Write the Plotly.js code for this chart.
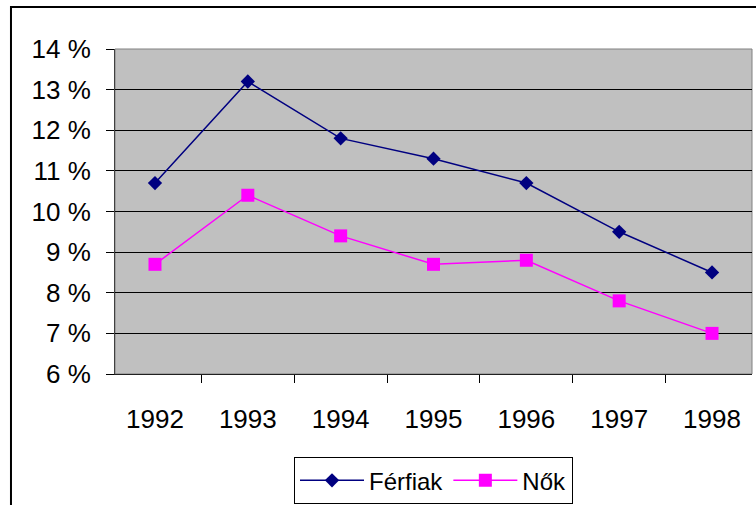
<!DOCTYPE html>
<html>
<head>
<meta charset="utf-8">
<script src="https://cdn.plot.ly/plotly-3.0.1.min.js"></script>
<style>
html,body{margin:0;padding:0;background:#fff;}
#chart{width:756px;height:505px;}
</style>
</head>
<body>
<div id="chart"></div>
<script>
const years = ['1992','1993','1994','1995','1996','1997','1998'];
const ferfiak = [10.7, 13.2, 11.8, 11.3, 10.7, 9.5, 8.5];
const nok = [8.7, 10.4, 9.4, 8.7, 8.8, 7.8, 7.0];
const yTicks = [6,7,8,9,10,11,12,13,14];

const fam = '"Liberation Sans", Arial, sans-serif';
const font = {family: fam, size: 26, color: '#000'};

const traces = [
  {
    x: years, y: ferfiak, name: 'Férfiak', type: 'scatter', mode: 'lines+markers',
    line: {color: '#000080', width: 1.5},
    marker: {symbol: 'diamond', size: 11, color: '#000080'}
  },
  {
    x: years, y: nok, name: 'Nők', type: 'scatter', mode: 'lines+markers',
    line: {color: '#FF00FF', width: 1.5},
    marker: {symbol: 'square', size: 13, color: '#FF00FF'}
  }
];

const layout = {
  width: 756, height: 505,
  margin: {l: 115, r: 4, t: 49, b: 131, autoexpand: false},
  paper_bgcolor: '#fff',
  plot_bgcolor: '#C0C0C0',
  font: font,
  showlegend: true,
  legend: {
    orientation: 'h', x: 0.5, xanchor: 'center', y: -0.256, yanchor: 'top',
    bordercolor: '#000', borderwidth: 1, bgcolor: '#fff', itemwidth: 64,
    font: {family: fam, size: 24, color: '#000'}
  },
  xaxis: {
    type: 'category', tickson: 'boundaries', ticks: 'outside', ticklen: 8,
    tickcolor: '#000', tickwidth: 1, showline: true, linecolor: '#202020', linewidth: 1,
    showgrid: false, zeroline: false, ticklabelstandoff: 22, automargin: false,
    tickfont: {family: fam, size: 26, color: '#000'}
  },
  yaxis: {
    range: [6, 14], tickvals: yTicks, ticktext: yTicks.map(v => v + ' %'),
    ticks: 'outside', ticklen: 8, tickcolor: '#000', tickwidth: 1,
    showline: true, linecolor: '#404040', linewidth: 1,
    showgrid: true, gridcolor: '#000', gridwidth: 1, zeroline: false,
    ticklabelstandoff: 10, automargin: false,
    tickfont: {family: fam, size: 26, color: '#000'}
  },
  shapes: [
    {type: 'rect', xref: 'paper', yref: 'paper', x0: 0, x1: 1, y0: 0, y1: 1,
     line: {color: '#808080', width: 1}, layer: 'below'},
    {type: 'rect', xref: 'paper', yref: 'paper', x0: -0.1633, x1: 1.05, y0: -0.5, y1: 1.129,
     line: {color: '#000', width: 2}, fillcolor: 'rgba(0,0,0,0)'}
  ]
};

Plotly.newPlot('chart', traces, layout, {displayModeBar: false, staticPlot: true});
</script>
</body>
</html>
